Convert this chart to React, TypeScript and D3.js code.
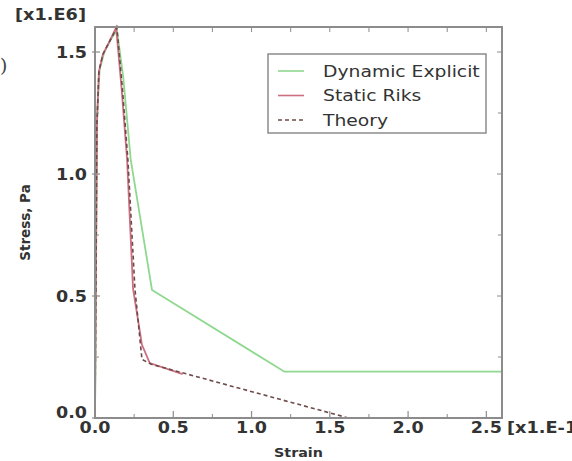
import React from "react";
import * as d3 from "d3";

const W = 572;
const H = 461;

// Strain [x1.E-1], Stress [x1.E6 Pa]
const dynStrain = [0, 0.014, 0.03, 0.06, 0.1, 0.14, 0.18, 0.228, 0.364, 1.21, 2.6];
const dynStress = [0, 1.25, 1.43, 1.5, 1.55, 1.59, 1.4, 1.06, 0.525, 0.19, 0.19];

const riksStrain = [0, 0.012, 0.025, 0.05, 0.09, 0.135, 0.17, 0.205, 0.243, 0.3, 0.35, 0.56];
const riksStress = [0, 1.2, 1.42, 1.49, 1.54, 1.6, 1.35, 1.06, 0.53, 0.3, 0.225, 0.18];

const theoryStrain = [0, 0.012, 0.025, 0.05, 0.09, 0.14, 0.175, 0.21, 0.255, 0.3, 0.36, 1.62];
const theoryStress = [0, 1.2, 1.42, 1.49, 1.54, 1.6, 1.35, 1.06, 0.53, 0.24, 0.22, 0];

const xTickValues = [0, 0.5, 1.0, 1.5, 2.0, 2.5];
const xMinorValues = [0.25, 0.75, 1.25, 1.75, 2.25];
const topTickValues = [0.25, 0.5, 0.75, 1.0, 1.25, 1.5, 1.75, 2.0, 2.25, 2.5];
const yTickValues = [0, 0.5, 1.0, 1.5];
const yMinorValues = [0.25, 0.75, 1.25];

const legendNames = ["Dynamic Explicit", "Static Riks", "Theory"];
const colors = ["#8fd88f", "#cc6f80", "#6e4a4a"];

const font = "DejaVu Sans, Verdana, sans-serif";
const textColor = "#333";

function SText(props: {
  x: number;
  y: number;
  sx: number;
  size: number;
  bold?: boolean;
  anchor?: string;
  children: React.ReactNode;
}) {
  return (
    <text
      transform={`translate(${props.x},${props.y}) scale(${props.sx},1)`}
      textAnchor={props.anchor || "start"}
      fontSize={props.size}
      fontWeight={props.bold ? "bold" : "normal"}
      fill={textColor}
      fontFamily={font}
    >
      {props.children}
    </text>
  );
}

export default function App() {
  const left = 95, right = 502, top = 27, bottom = 418;
  const x = d3.scaleLinear().domain([0, 2.6]).range([left, right]);
  const y = d3.scaleLinear().domain([0, 1.6025]).range([bottom, top]);

  const line = d3
    .line<[number, number]>()
    .x((d) => x(d[0]))
    .y((d) => y(d[1]));

  const dyn = dynStrain.map((s, i) => [s, dynStress[i]] as [number, number]);
  const riks = riksStrain.map((s, i) => [s, riksStress[i]] as [number, number]);
  const theory = theoryStrain.map((s, i) => [s, theoryStress[i]] as [number, number]);

  const fmt = d3.format(".1f");
  const axisColor = "#8c8c8c";

  const lx = 268, ly = 54, lw = 218, lh = 79;

  return (
    <svg
      width={W}
      height={H}
      style={{ position: "absolute", left: 0, top: 0, background: "#fff" }}
      fontFamily={font}
    >
      <rect x={0} y={0} width={W} height={H} fill="#fff" />
      <text x={0} y={72} fontSize={19} fill="#444" fontFamily="DejaVu Serif, serif">)</text>

      {/* series */}
      <path d={line(dyn) || ""} fill="none" stroke={colors[0]} strokeWidth={1.8} />
      <path d={line(riks) || ""} fill="none" stroke={colors[1]} strokeWidth={1.8} />
      <path d={line(theory) || ""} fill="none" stroke={colors[2]} strokeWidth={1.6} strokeDasharray="4,3" />

      {/* frame */}
      <rect x={left} y={top} width={right - left} height={bottom - top} fill="none" stroke={axisColor} strokeWidth={2} />

      {/* bottom ticks */}
      {xTickValues.map((v) => (
        <line key={"xb" + v} x1={x(v)} x2={x(v)} y1={bottom} y2={bottom - 7} stroke={axisColor} strokeWidth={1.2} />
      ))}
      {xMinorValues.map((v) => (
        <line key={"xm" + v} x1={x(v)} x2={x(v)} y1={bottom} y2={bottom - 4} stroke={axisColor} strokeWidth={1} />
      ))}
      {topTickValues.map((v) => (
        <line key={"xt" + v} x1={x(v)} x2={x(v)} y1={top} y2={top + 5} stroke={axisColor} strokeWidth={1} />
      ))}
      {/* left and right ticks */}
      {yTickValues.map((v) => (
        <g key={"y" + v}>
          <line x1={left - 3} x2={left + 5} y1={y(v)} y2={y(v)} stroke={axisColor} strokeWidth={1.2} />
          <line x1={right} x2={right - 5} y1={y(v)} y2={y(v)} stroke={axisColor} strokeWidth={1} />
        </g>
      ))}
      {yMinorValues.map((v) => (
        <g key={"ym" + v}>
          <line x1={left} x2={left + 4} y1={y(v)} y2={y(v)} stroke={axisColor} strokeWidth={1} />
          <line x1={right} x2={right - 4} y1={y(v)} y2={y(v)} stroke={axisColor} strokeWidth={1} />
        </g>
      ))}

      {/* tick labels */}
      {xTickValues.map((v) => (
        <SText key={"xl" + v} x={x(v)} y={433} sx={1.17} size={15} bold anchor="middle">
          {fmt(v)}
        </SText>
      ))}
      {yTickValues.map((v) => (
        <SText key={"yl" + v} x={87} y={v === 0 ? y(v) : y(v) + 5.5} sx={1.17} size={15} bold anchor="end">
          {fmt(v)}
        </SText>
      ))}
      <SText x={15} y={20} sx={1.18} size={15} bold>[x1.E6]</SText>
      <SText x={507} y={433} sx={1.18} size={15} bold>[x1.E-1]</SText>

      {/* axis titles */}
      <SText x={(left + right) / 2} y={457} sx={1.1} size={13} bold anchor="middle">Strain</SText>
      <text
        transform={`translate(30,${(top + bottom) / 2}) rotate(-90)`}
        textAnchor="middle"
        fontSize={13.5}
        fontWeight="bold"
        fill={textColor}
      >
        Stress, Pa
      </text>

      {/* legend */}
      <rect x={lx} y={ly} width={lw} height={lh} fill="#fff" stroke={axisColor} strokeWidth={1.5} />
      {legendNames.map((name, i) => {
        const yy = ly + 17 + i * 24.5;
        return (
          <g key={name}>
            <line
              x1={lx + 10}
              x2={lx + 36}
              y1={yy}
              y2={yy}
              stroke={colors[i]}
              strokeWidth={1.6}
              strokeDasharray={i === 2 ? "4,3" : undefined}
            />
            <SText x={lx + 55} y={yy + 5.5} sx={1.25} size={15}>
              {name}
            </SText>
          </g>
        );
      })}
    </svg>
  );
}
